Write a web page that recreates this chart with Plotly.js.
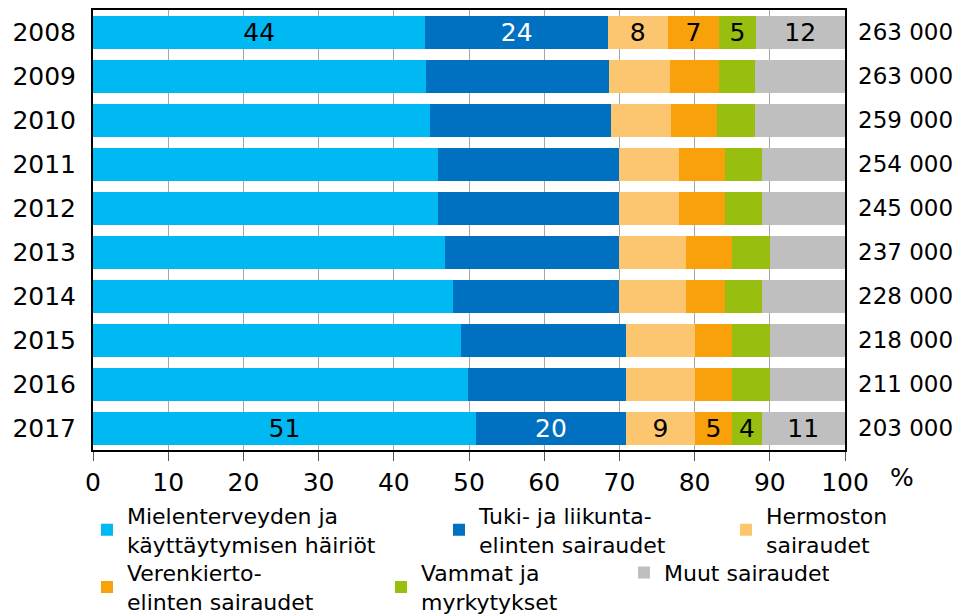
<!DOCTYPE html>
<html>
<head>
<meta charset="utf-8">
<script src="https://cdn.plot.ly/plotly-3.0.1.min.js"></script>
<style>html,body{margin:0;padding:0;background:#fff;}#chart{width:962px;height:616px;}</style>
</head>
<body>
<div id="chart"></div>
<script>
const years = ['2008','2009','2010','2011','2012','2013','2014','2015','2016','2017'];
const totals = ['263 000','263 000','259 000','254 000','245 000','237 000','228 000','218 000','211 000','203 000'];

const mental   = [44.2, 44.3, 44.8, 45.9, 45.9, 46.8, 47.9, 48.9, 49.9, 50.9];
const musculo  = [24.3, 24.3, 24.1, 24.0, 24.0, 23.1, 22.0, 22.0, 21.0, 20.0];
const nervous  = [7.9, 8.1, 8.0, 8.0, 8.0, 9.0, 9.0, 9.1, 9.1, 9.1];
const circul   = [6.9, 6.5, 6.1, 6.1, 6.1, 6.1, 5.1, 5.0, 5.0, 5.0];
const injuries = [4.8, 4.8, 5.0, 4.9, 4.9, 5.0, 4.9, 5.0, 5.0, 3.9];
const other    = [11.9, 12.0, 12.0, 11.1, 11.1, 10.0, 11.1, 10.0, 10.0, 11.1];

const labelMental   = ['44','','','','','','','','','51'];
const labelMusculo  = ['24','','','','','','','','','20'];
const labelNervous  = ['8','','','','','','','','','9'];
const labelCircul   = ['7','','','','','','','','','5'];
const labelInjuries = ['5','','','','','','','','','4'];
const labelOther    = ['12','','','','','','','','','11'];

const names = [
  'Mielenterveyden ja<br>käyttäytymisen häiriöt',
  'Tuki- ja liikunta-<br>elinten sairaudet',
  'Hermoston<br>sairaudet',
  'Verenkierto-<br>elinten sairaudet',
  'Vammat ja<br>myrkytykset',
  'Muut sairaudet'
];

const FONT = 'DejaVu Sans, Verdana, sans-serif';
const series = [mental, musculo, nervous, circul, injuries, other];
const labels = [labelMental, labelMusculo, labelNervous, labelCircul, labelInjuries, labelOther];
const colors = ['#00B9F2', '#0071C1', '#FBC66F', '#F9A10B', '#98BE0F', '#BFBFBF'];
const textColors = ['#000', '#fff', '#000', '#000', '#000', '#000'];
const legendIds = ['legend', 'legend', 'legend', 'legend2', 'legend2', 'legend2'];
const legendWidths = [307, 242, 130, 249, 198, 160];

const traces = series.map((vals, i) => ({
  type: 'bar',
  orientation: 'h',
  y: years,
  x: vals,
  name: names[i],
  marker: {color: colors[i], line: {width: 0}},
  text: labels[i],
  textposition: 'inside',
  insidetextanchor: 'middle',
  textangle: 0,
  constraintext: 'none',
  textfont: {family: FONT, size: 25, color: textColors[i]},
  legend: legendIds[i],
  legendwidth: legendWidths[i],
  hoverinfo: 'skip'
}));

const annotations = years.map((yr, i) => ({
  xref: 'paper', yref: 'y', x: 1, y: i,
  xanchor: 'left', yanchor: 'middle', xshift: 11,
  text: totals[i], showarrow: false,
  font: {family: FONT, size: 23, color: '#000'}
}));
annotations.push({
  xref: 'paper', yref: 'paper', x: 1.076, y: -0.062,
  xanchor: 'center', yanchor: 'middle',
  text: '%', showarrow: false,
  font: {family: FONT, size: 25, color: '#000'}
});

const legendCommon = {
  orientation: 'h',
  xref: 'paper', yref: 'paper',
  xanchor: 'left', yanchor: 'middle',
  font: {family: FONT, size: 22, color: '#000'},
  bgcolor: 'rgba(0,0,0,0)',
  borderwidth: 0,
  traceorder: 'normal',
  valign: 'middle'
};

const layout = {
  width: 962, height: 616,
  margin: {l: 93, r: 117, t: 10, b: 166, autoexpand: false},
  paper_bgcolor: '#fff', plot_bgcolor: '#fff',
  barmode: 'stack',
  bargap: 0.25,
  font: {family: FONT, color: '#000'},
  showlegend: true,
  xaxis: {
    range: [0, 100],
    tickvals: [0,10,20,30,40,50,60,70,80,90,100],
    ticks: 'outside', ticklen: 9, tickcolor: '#555', tickwidth: 1,
    showgrid: true, gridcolor: '#A6A6A6', gridwidth: 1,
    showline: true, linecolor: '#000', linewidth: 2, mirror: true,
    zeroline: false,
    tickfont: {family: FONT, size: 25, color: '#000'},
    fixedrange: true
  },
  yaxis: {
    type: 'category',
    categoryorder: 'array', categoryarray: years,
    range: [9.5, -0.5],
    ticks: '',
    ticklabelstandoff: 10,
    showgrid: false,
    showline: true, linecolor: '#000', linewidth: 2, mirror: true,
    zeroline: false,
    tickfont: {family: FONT, size: 25, color: '#000'},
    fixedrange: true
  },
  legend: Object.assign({}, legendCommon, {x: -0.008, y: -0.182}),
  legend2: Object.assign({}, legendCommon, {x: -0.008, y: -0.312}),
  annotations: annotations
};

Plotly.newPlot('chart', traces, layout, {displayModeBar: false, staticPlot: true});
</script>
</body>
</html>
